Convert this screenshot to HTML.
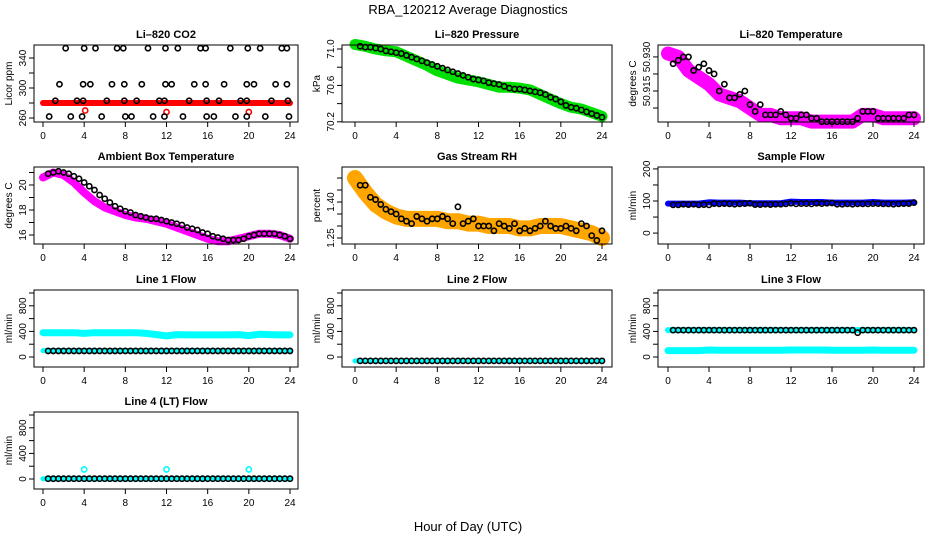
<!DOCTYPE html>
<html><head><meta charset="utf-8"><style>
html,body{margin:0;padding:0;background:#fff}
svg{display:block;font-family:"Liberation Sans",sans-serif}
</style></head><body>
<svg id="c" width="936" height="540" viewBox="0 0 936 540">
<text x="468" y="14" text-anchor="middle" font-size="13">RBA_120212  Average Diagnostics</text>
<text x="468" y="531" text-anchor="middle" font-size="13">Hour of Day (UTC)</text>
</svg>
<script>
// ---- data ----
const xTicks=[0,4,8,12,16,20,24];
const hours=[0,1,2,3,4,5,6,7,8,9,10,11,12,13,14,15,16,17,18,19,20,21,22,23,24];
const halfHours=[0.5,1,1.5,2,2.5,3,3.5,4,4.5,5,5.5,6,6.5,7,7.5,8,8.5,9,9.5,10,10.5,11,11.5,12,12.5,13,13.5,14,14.5,15,15.5,16,16.5,17,17.5,18,18.5,19,19.5,20,20.5,21,21.5,22,22.5,23,23.5,24];
// CO2
const co2Band=[280,280,280,280,280,280,280,280,280,280,280,280,280,280,280,280,280,280,280,280,280,280,280,280,280];
const co2RedTimes=[4.1,12.0,20.0];
const co2RedVals=[270,268,268];
const co2Times=[2.2,4.0,5.1,7.2,7.8,10.2,11.9,13.1,15.3,15.8,18.2,19.9,21.1,23.2,23.7,1.6,3.9,4.6,6.7,7.9,9.6,11.9,12.5,14.7,15.8,17.6,19.8,20.5,22.6,23.7,1.2,3.3,3.9,6.2,7.9,9.1,11.3,11.8,14.2,15.9,17.1,19.2,19.8,22.2,23.8,0.6,2.7,3.8,5.7,8.0,8.6,10.7,11.8,13.6,15.9,16.6,18.7,19.8,21.6,23.9];
const co2Vals=[353,353,353,353,353,353,353,353,353,353,353,353,353,353,353,305,305,305,305,305,305,305,305,305,305,305,305,305,305,305,283,283,283,283,283,283,283,283,283,283,283,283,283,283,283,262,262,262,262,262,262,262,262,262,262,262,262,262,262,262];
// Pressure
const presBand=[71.05,71.03,71.0,70.98,70.97,70.92,70.87,70.82,70.76,70.72,70.68,70.66,70.64,70.61,70.58,70.58,70.57,70.55,70.5,70.45,70.4,70.36,70.34,70.3,70.26];
const presVals=[71.03,71.02,71.02,71.01,71.0,70.98,70.97,70.96,70.95,70.93,70.91,70.89,70.87,70.85,70.83,70.81,70.79,70.77,70.75,70.73,70.71,70.69,70.67,70.66,70.65,70.63,70.62,70.61,70.59,70.57,70.56,70.56,70.55,70.54,70.53,70.52,70.5,70.47,70.45,70.42,70.38,70.36,70.35,70.33,70.31,70.29,70.27,70.25];
// Li-820 temperature
const tempBand=[50.931,50.930,50.926,50.924,50.922,50.919,50.918,50.917,50.915,50.913,50.913,50.912,50.912,50.912,50.911,50.911,50.911,50.911,50.911,50.913,50.913,50.912,50.912,50.912,50.912];
const tempVals=[50.928,50.929,50.930,50.930,50.926,50.927,50.928,50.926,50.925,50.920,50.922,50.918,50.918,50.919,50.920,50.916,50.914,50.916,50.913,50.913,50.913,50.914,50.913,50.912,50.912,50.913,50.913,50.912,50.912,50.911,50.911,50.911,50.911,50.911,50.911,50.911,50.912,50.914,50.914,50.914,50.912,50.912,50.912,50.912,50.912,50.912,50.913,50.913];
// Ambient
const ambBand=[20.6,21.0,20.8,20.2,19.4,18.7,18.2,17.9,17.6,17.4,17.3,17.1,16.9,16.6,16.3,16.0,15.7,15.5,15.5,15.7,15.9,16.1,16.1,16.0,15.7];
const ambVals=[20.9,21.0,21.1,21.0,20.9,20.7,20.5,20.2,19.9,19.6,19.2,18.9,18.6,18.3,18.1,17.9,17.8,17.6,17.5,17.4,17.3,17.3,17.2,17.1,17.0,16.9,16.8,16.6,16.5,16.4,16.2,16.1,15.9,15.8,15.7,15.6,15.6,15.6,15.7,15.9,16.0,16.1,16.1,16.1,16.1,16.0,15.9,15.7];
// RH
const rhBand=[1.50,1.44,1.39,1.36,1.34,1.33,1.33,1.33,1.33,1.32,1.32,1.31,1.31,1.30,1.30,1.30,1.29,1.29,1.30,1.30,1.30,1.29,1.28,1.27,1.25];
const rhVals=[1.47,1.47,1.42,1.41,1.39,1.37,1.36,1.35,1.33,1.32,1.31,1.34,1.33,1.32,1.33,1.33,1.34,1.33,1.31,1.38,1.31,1.32,1.33,1.30,1.30,1.30,1.28,1.31,1.30,1.29,1.31,1.28,1.29,1.28,1.29,1.30,1.32,1.30,1.29,1.29,1.30,1.29,1.28,1.31,1.30,1.26,1.24,1.28];
// Sample flow
const sfBand=[92,92,92,92,96,95,95,95,93,93,93,93,98,97,97,97,95,95,95,95,97,95,95,95,96];
const sfVals=[88,88,90,89,90,88,89,88,92,91,92,91,90,91,92,93,89,89,90,89,90,90,91,93,91,92,92,91,93,92,93,94,90,90,91,90,91,91,91,92,92,91,91,90,91,92,92,95];
// Line flows
const l1Upper=[380,380,380,380,370,380,380,380,380,380,370,350,330,350,345,345,345,345,345,350,335,355,350,345,345];
const l1Lower=[100,100,100,100,100,100,100,100,100,100,100,100,100,100,100,100,100,100,100,100,100,100,100,100,100];
const l1Vals=[95,95,95,95,95,95,95,95,95,95,95,95,95,95,95,95,95,95,95,95,95,95,95,95,95,95,95,95,95,95,95,95,95,95,95,95,95,95,95,95,95,95,95,95,95,95,95,95];
const l2Cyan=[-60,-60,-60,-60,-60,-60,-60,-60,-60,-60,-60,-60,-60,-60,-60,-60,-60,-60,-60,-60,-60,-60,-60,-60,-60];
const l2Vals=[-60,-60,-60,-60,-60,-60,-60,-60,-60,-60,-60,-60,-60,-60,-60,-60,-60,-60,-60,-60,-60,-60,-60,-60,-60,-60,-60,-60,-60,-60,-60,-60,-60,-60,-60,-60,-60,-60,-60,-60,-60,-60,-60,-60,-60,-60,-60,-60];
const l3Upper=[420,420,420,420,420,420,420,420,420,420,420,420,420,420,420,420,420,420,420,420,420,420,420,420,420];
const l3Lower=[100,100,100,100,110,105,105,105,105,105,105,105,110,110,110,110,105,105,105,105,110,105,105,105,105];
const l3Vals=[420,420,420,420,420,420,420,420,420,420,420,420,420,420,420,420,420,420,420,420,420,420,420,420,420,420,420,420,420,420,420,420,420,420,420,420,380,420,420,420,420,420,420,420,420,420,420,420];
const l4Cyan=[5,5,5,5,5,5,5,5,5,5,5,5,5,5,5,5,5,5,5,5,5,5,5,5,5];
const l4OutTimes=[4,12,20];
const l4OutVals=[150,150,150];
const l4Vals=[5,5,5,5,5,5,5,5,5,5,5,5,5,5,5,5,5,5,5,5,5,5,5,5,5,5,5,5,5,5,5,5,5,5,5,5,5,5,5,5,5,5,5,5,5,5,5,5];

// ---- layout ----
const NS="http://www.w3.org/2000/svg";
const svg=document.getElementById('c');
const cols=[{l:34,r:298,x0:43,x1:290},{l:342,r:612,x0:355,x1:602},{l:658,r:924,x0:668,x1:914}];
const rows=[45,167,290,412];
const H=77;
function mk(tag,attrs,parent){const e=document.createElementNS(NS,tag);for(const k in attrs)e.setAttribute(k,attrs[k]);(parent||svg).appendChild(e);return e;}

function panel(ci,ri,name,title,ylab,dom,yTicks,yLabels,draw){
  const c=cols[ci],top=rows[ri],bot=top+H;
  const g=mk('g',{});
  
  
  const xs=t=>c.x0+(t/24)*(c.x1-c.x0);
  const ys=v=>bot-(v-dom[0])/(dom[1]-dom[0])*H;
  const t=mk('text',{x:(c.l+c.r)/2,y:top-7,'text-anchor':'middle','font-size':11,'font-weight':'bold'},g);
  t.textContent=title;
  
  
  const yt=mk('text',{transform:`translate(${c.l-22},${top+H/2}) rotate(-90)`,'text-anchor':'middle','font-size':10},g);
  yt.textContent=ylab;
  
  
  const marks=mk('g',{},g);
  
  
  draw(marks,xs,ys);
  const box=mk('rect',{x:c.l,y:top,width:c.r-c.l,height:H,fill:'none',stroke:'#000','stroke-width':1},g);
  
  
  const xa=mk('g',{},g);
  
  
  xTicks.forEach(v=>{const x=xs(v);mk('line',{x1:x,x2:x,y1:bot,y2:bot+5,stroke:'#000'},xa);
    const l=mk('text',{x:x,y:bot+17,'text-anchor':'middle','font-size':10},xa);l.textContent=v;});
  const ya=mk('g',{},g);
  
  
  yTicks.forEach((v,i)=>{const y=ys(v);mk('line',{x1:c.l-5,x2:c.l,y1:y,y2:y,stroke:'#000'},ya);
    if(yLabels[i]){const l=mk('text',{transform:`translate(${c.l-8},${y}) rotate(-90)`,'text-anchor':'middle','font-size':10},ya);l.textContent=yLabels[i];}});
}
function band(g,xs,ys,times,vals,color,w){
  const p=mk('polyline',{points:times.map((t,i)=>xs(t)+','+ys(vals[i])).join(' '),fill:'none',stroke:color,'stroke-width':w,'stroke-linejoin':'round','stroke-linecap':'round'},g);
  
  
}
function pts(g,xs,ys,times,vals,color,r,sw){
  times.forEach((t,i)=>{const e=mk('circle',{cx:xs(t),cy:ys(vals[i]),r:r||2.6,fill:'none',stroke:color,'stroke-width':sw||1.6},g);
    
    });
}

panel(0,0,'co2','Li\u2013820 CO2','Licor ppm',[254.7,357.3],[260,280,300,320,340],['260','','300','','340'],(g,xs,ys)=>{
  band(g,xs,ys,hours,co2Band,'#ff0000',6);
  pts(g,xs,ys,co2RedTimes,co2RedVals,'#ff0000');
  pts(g,xs,ys,co2Times,co2Vals,'#000');
});
panel(1,0,'pressure','Li\u2013820 Pressure','kPa',[70.198,71.044],[70.2,70.4,70.6,70.8,71.0],['70.2','','70.6','','71.0'],(g,xs,ys)=>{
  band(g,xs,ys,hours,presBand,'#00e000',11);
  pts(g,xs,ys,halfHours,presVals,'#000');
});
panel(2,0,'li820-temperature','Li\u2013820 Temperature','degrees C',[50.9109,50.9335],[50.930,50.925,50.920,50.915],['50.930','','50.915',''],(g,xs,ys)=>{
  band(g,xs,ys,hours,tempBand,'#ff00ff',14);
  pts(g,xs,ys,halfHours,tempVals,'#000');
});
panel(0,1,'ambient-temperature','Ambient Box Temperature','degrees C',[15.28,21.44],[16,17,18,19,20,21],['16','','18','','20',''],(g,xs,ys)=>{
  band(g,xs,ys,hours,ambBand,'#ff00ff',8);
  pts(g,xs,ys,halfHours,ambVals,'#000');
});
panel(1,1,'gas-stream-rh','Gas Stream RH','percent',[1.225,1.546],[1.25,1.30,1.35,1.40,1.45,1.50],['1.25','','','1.40','',''],(g,xs,ys)=>{
  band(g,xs,ys,hours,rhBand,'#ffa500',16);
  pts(g,xs,ys,halfHours,rhVals,'#000');
});
panel(2,1,'sample-flow','Sample Flow','ml/min',[-34,206],[0,50,100,150,200],['0','','100','','200'],(g,xs,ys)=>{
  band(g,xs,ys,hours,sfBand,'#0000ff',6);
  pts(g,xs,ys,halfHours,sfVals,'#000');
});
const flowDom=[-156,1047],flowTicks=[0,200,400,600,800,1000],flowLabels=['0','','400','','800',''];
panel(0,2,'line1-flow','Line 1 Flow','ml/min',flowDom,flowTicks,flowLabels,(g,xs,ys)=>{
  band(g,xs,ys,hours,l1Upper,'#00ffff',7);
  band(g,xs,ys,hours,l1Lower,'#00ffff',5);
  pts(g,xs,ys,halfHours,l1Vals,'#000');
});
panel(1,2,'line2-flow','Line 2 Flow','ml/min',flowDom,flowTicks,flowLabels,(g,xs,ys)=>{
  band(g,xs,ys,hours,l2Cyan,'#00ffff',5);
  pts(g,xs,ys,halfHours,l2Vals,'#000');
});
panel(2,2,'line3-flow','Line 3 Flow','ml/min',flowDom,flowTicks,flowLabels,(g,xs,ys)=>{
  band(g,xs,ys,hours,l3Upper,'#00ffff',6);
  band(g,xs,ys,hours,l3Lower,'#00ffff',7);
  pts(g,xs,ys,halfHours,l3Vals,'#000');
});
panel(0,3,'line4-flow','Line 4 (LT) Flow','ml/min',flowDom,flowTicks,flowLabels,(g,xs,ys)=>{
  band(g,xs,ys,hours,l4Cyan,'#00ffff',5);
  pts(g,xs,ys,l4OutTimes,l4OutVals,'#00ffff');
  pts(g,xs,ys,halfHours,l4Vals,'#000');
});
</script>
</body></html>
